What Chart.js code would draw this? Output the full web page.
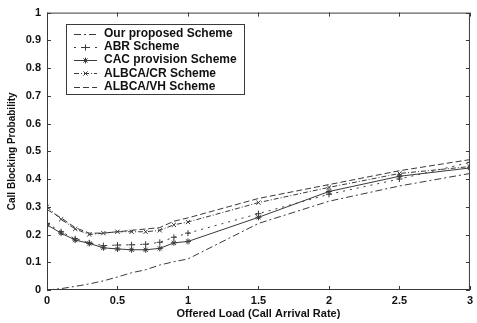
<!DOCTYPE html>
<html><head><meta charset="utf-8">
<script src="https://cdn.jsdelivr.net/npm/chart.js@4.4.0/dist/chart.umd.min.js"></script>
<style>html,body{margin:0;padding:0;background:#fff}#w{width:477px;height:323px}</style>
</head><body><div id="w"><canvas id="c" width="477" height="323"></canvas></div>
<script>
const loads = [0, 0.1, 0.2, 0.3, 0.4, 0.5, 0.6, 0.7, 0.8, 0.9, 1.0, 1.5, 2.0, 2.5, 3.0];
const ourProposed = [0, 0.005, 0.013, 0.022, 0.033, 0.047, 0.062, 0.073, 0.09, 0.102, 0.112, 0.24, 0.32, 0.375, 0.42];
const abr = [0.24, 0.21, 0.185, 0.17, 0.16, 0.162, 0.163, 0.165, 0.172, 0.19, 0.205, 0.275, 0.345, 0.40, 0.46];
const cacProvision = [0.235, 0.205, 0.18, 0.168, 0.152, 0.148, 0.145, 0.145, 0.15, 0.17, 0.175, 0.262, 0.355, 0.41, 0.44];
const albcaCR = [0.30, 0.255, 0.22, 0.20, 0.205, 0.21, 0.21, 0.21, 0.215, 0.235, 0.245, 0.315, 0.37, 0.42, 0.445];
const albcaVH = [0.29, 0.26, 0.225, 0.205, 0.205, 0.21, 0.215, 0.22, 0.225, 0.248, 0.26, 0.33, 0.38, 0.43, 0.47];
const seriesNames = ["Our proposed Scheme", "ABR Scheme", "CAC provision Scheme", "ALBCA/CR Scheme", "ALBCA/VH Scheme"];
const xTicks = [0, 0.5, 1, 1.5, 2, 2.5, 3];
const yTicks = [0, 0.1, 0.2, 0.3, 0.4, 0.5, 0.6, 0.7, 0.8, 0.9, 1];

const FONT = "'Liberation Sans', Arial, sans-serif";
const INK = '#3a3a3a';
const pts = arr => loads.map((x, i) => ({x, y: arr[i]}));
const styles = [
  {dash: [7, 3, 2, 3], point: false},
  {dash: [2, 5], point: 'cross'},
  {dash: [], point: 'star'},
  {dash: [5, 2, 1, 2], point: 'crossRot'},
  {dash: [6, 3], point: false}
];
const allData = [ourProposed, abr, cacProvision, albcaCR, albcaVH];
const datasets = allData.map((d, i) => ({
  label: seriesNames[i],
  data: pts(d),
  borderColor: INK,
  backgroundColor: INK,
  borderWidth: 1,
  borderDash: styles[i].dash,
  pointStyle: styles[i].point || 'circle',
  pointRadius: styles[i].point ? 3 : 0,
  pointBorderWidth: 1,
  tension: 0,
  fill: false
}));

const framePlugin = {
  id: 'frame',
  afterDraw(chart) {
    const {ctx, chartArea: a, scales} = chart;
    ctx.save();
    ctx.strokeStyle = INK;
    ctx.lineWidth = 1;
    ctx.setLineDash([]);
    ctx.strokeRect(a.left + 0.5, a.top + 0.5, a.right - a.left - 1, a.bottom - a.top - 1);
    ctx.beginPath();
    const L = 4;
    xTicks.forEach(v => {
      const px = Math.round(scales.x.getPixelForValue(v)) + 0.5;
      ctx.moveTo(px, a.bottom); ctx.lineTo(px, a.bottom - L);
      ctx.moveTo(px, a.top); ctx.lineTo(px, a.top + L);
    });
    yTicks.forEach(v => {
      const py = Math.round(scales.y.getPixelForValue(v)) + 0.5;
      ctx.moveTo(a.left, py); ctx.lineTo(a.left + L, py);
      ctx.moveTo(a.right, py); ctx.lineTo(a.right - L, py);
    });
    ctx.stroke();
    // legend box
    const bx = 66, by = 24, bw = 178, bh = 70;
    ctx.fillStyle = '#fff';
    ctx.fillRect(bx, by, bw, bh);
    ctx.strokeRect(bx + 0.5, by + 0.5, bw, bh);
    ctx.font = "bold 12px " + FONT;
    ctx.textBaseline = 'middle';
    chart.data.datasets.forEach((ds, i) => {
      const y = 33.5 + i * 13.3;
      ctx.setLineDash(ds.borderDash);
      ctx.beginPath();
      ctx.moveTo(74, Math.round(y) + 0.5); ctx.lineTo(97, Math.round(y) + 0.5);
      ctx.stroke();
      ctx.setLineDash([]);
      if (styles[i].point) {
        const cx = 85.5, cy = Math.round(y) + 0.5, r = 3;
        ctx.beginPath();
        if (styles[i].point === 'cross' || styles[i].point === 'star') {
          ctx.moveTo(cx - r, cy); ctx.lineTo(cx + r, cy);
          ctx.moveTo(cx, cy - r); ctx.lineTo(cx, cy + r);
        }
        if (styles[i].point === 'crossRot' || styles[i].point === 'star') {
          ctx.moveTo(cx - r * .7, cy - r * .7); ctx.lineTo(cx + r * .7, cy + r * .7);
          ctx.moveTo(cx - r * .7, cy + r * .7); ctx.lineTo(cx + r * .7, cy - r * .7);
        }
        ctx.stroke();
      }
      ctx.fillStyle = '#111';
      ctx.fillText(ds.label, 104, y);
    });
    ctx.restore();
  }
};

new Chart(document.getElementById('c'), {
  type: 'line',
  data: {datasets},
  plugins: [framePlugin],
  options: {
    responsive: false,
    animation: false,
    layout: {padding: {left: 0, right: 4, top: 10, bottom: 0}},
    plugins: {legend: {display: false}, tooltip: {enabled: false}},
    scales: {
      x: {
        type: 'linear', min: 0, max: 3,
        afterBuildTicks: s => { s.ticks = xTicks.map(v => ({value: v})); },
        afterFit: s => { s.height = 33; },
        grid: {display: false, drawTicks: false, tickLength: 0},
        border: {display: false},
        ticks: {color: '#111', padding: 4, font: {family: FONT, size: 11, weight: 'bold'}, maxRotation: 0,
          callback: v => String(v)},
        title: {display: true, text: 'Offered Load (Call Arrival Rate)', color: '#111', padding: {top: 0, bottom: 2},
          font: {family: FONT, size: 11, weight: 'bold'}}
      },
      y: {
        type: 'linear', min: 0, max: 1,
        afterBuildTicks: s => { s.ticks = yTicks.map(v => ({value: v})); },
        afterFit: s => { s.width = 47; },
        grid: {display: false, drawTicks: false, tickLength: 0},
        border: {display: false},
        ticks: {color: '#111', padding: 6, font: {family: FONT, size: 11, weight: 'bold'},
          callback: v => String(v)},
        title: {display: true, text: 'Call Blocking Probability', color: '#111', padding: {top: 6, bottom: 0},
          font: {family: FONT, size: 10, weight: 'bold'}}
      }
    }
  }
});
</script></body></html>
